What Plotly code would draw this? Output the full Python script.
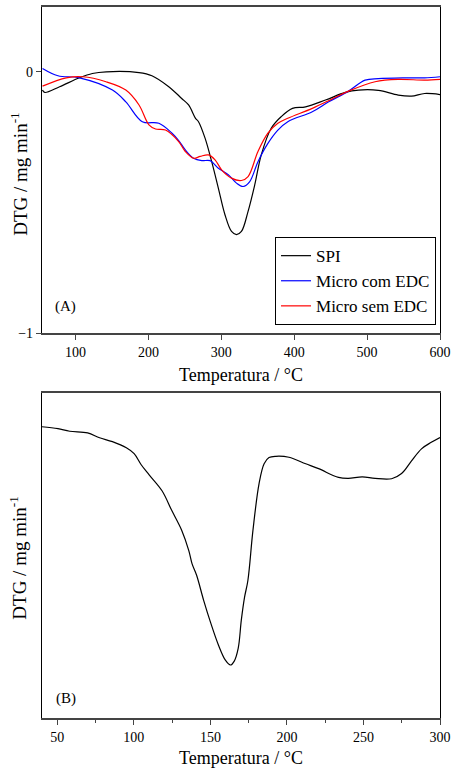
import plotly.graph_objects as go

# ---- Panel A data (DTG / mg min^-1 vs Temperatura / °C) ----
spi_T = [54.7, 57.8, 78.2, 105.4, 123.1, 142.2, 187.1, 204.8, 227.9, 245.6, 255.1, 264.6,
         268.7, 277.8, 286.8, 295.9, 305.0, 314.0, 320.8, 327.6, 336.7, 345.9, 354.8, 368.4,
         382.0, 397.6, 415.6, 442.9, 470.1, 488.2, 515.4, 542.6, 560.8, 578.9, 600.0]
spi_v = [-0.070, -0.079, -0.057, -0.023, -0.0065, 0.0, -0.003, -0.015, -0.057, -0.102, -0.127, -0.178,
         -0.191, -0.255, -0.344, -0.445, -0.547, -0.611, -0.623, -0.611, -0.534, -0.432, -0.318, -0.216,
         -0.172, -0.140, -0.134, -0.108, -0.079, -0.070, -0.071, -0.089, -0.093, -0.083, -0.087]

com_T = [54.7, 75.9, 105.4, 150.7, 169.0, 191.6, 214.3, 232.4, 241.5, 250.6, 261.9, 273.2, 284.6,
         295.9, 309.5, 320.8, 329.9, 339.0, 350.3, 363.9, 377.6, 391.2, 424.8, 447.3, 474.5,
         497.3, 515.4, 551.7, 578.9, 600.0]
com_v = [0.013, -0.015, -0.023, -0.070, -0.115, -0.191, -0.197, -0.235, -0.263, -0.299, -0.331, -0.340, -0.340,
         -0.369, -0.394, -0.426, -0.439, -0.420, -0.344, -0.274, -0.223, -0.191, -0.153, -0.115, -0.074,
         -0.032, -0.026, -0.023, -0.023, -0.019]

sem_T = [54.7, 87.3, 109.9, 141.8, 169.0, 187.1, 200.7, 209.8, 223.4, 241.5, 250.6, 261.9, 271.0,
         282.3, 291.4, 300.4, 314.0, 327.6, 336.7, 350.3, 363.9, 377.6, 391.2, 424.8, 452.0,
         474.5, 510.9, 542.6, 578.9, 600.0]
sem_v = [-0.055, -0.023, -0.019, -0.038, -0.070, -0.127, -0.203, -0.219, -0.223, -0.267, -0.305, -0.331, -0.324,
         -0.318, -0.337, -0.375, -0.407, -0.416, -0.401, -0.305, -0.235, -0.197, -0.178, -0.140, -0.104,
         -0.074, -0.038, -0.029, -0.032, -0.029]

# ---- Panel B data (arbitrary DTG units) ----
b_T = [40.0, 50.4, 58.1, 69.8, 77.6, 86.0, 95.1, 100.2, 104.8, 110.0, 118.4, 124.8, 131.3, 135.9,
       138.0, 141.0, 145.6, 150.1, 155.3, 159.8, 163.1, 165.6, 168.2, 170.2, 172.3, 174.5, 177.8,
       181.8, 185.1, 188.3, 192.8, 201.3, 212.3, 220.7, 233.7, 240.1, 249.2, 257.6, 268.4, 274.9,
       281.4, 287.9, 294.3, 300.0]
b_v = [-0.104, -0.110, -0.118, -0.123, -0.138, -0.150, -0.169, -0.187, -0.221, -0.252, -0.301, -0.362,
       -0.423, -0.485, -0.525, -0.561, -0.638, -0.706, -0.776, -0.822, -0.837, -0.825, -0.785, -0.699,
       -0.629, -0.577, -0.423, -0.279, -0.218, -0.199, -0.195, -0.198, -0.218, -0.233, -0.260, -0.263,
       -0.258, -0.263, -0.264, -0.248, -0.209, -0.172, -0.152, -0.137]

a_xticks = [100, 200, 300, 400, 500, 600]
a_yticks = [0, -1]
b_xticks = [50, 100, 150, 200, 250, 300]

FONT = '"Liberation Serif", "Times New Roman", "DejaVu Serif", serif'

fig = go.Figure()
fig.add_trace(go.Scatter(x=spi_T, y=spi_v, mode="lines", name="SPI",
                         line=dict(color="black", width=1.2, shape="spline"),
                         xaxis="x", yaxis="y"))
fig.add_trace(go.Scatter(x=com_T, y=com_v, mode="lines", name="Micro com EDC",
                         line=dict(color="#0000ff", width=1.2, shape="spline"),
                         xaxis="x", yaxis="y"))
fig.add_trace(go.Scatter(x=sem_T, y=sem_v, mode="lines", name="Micro sem EDC",
                         line=dict(color="#ff0000", width=1.2, shape="spline"),
                         xaxis="x", yaxis="y"))
fig.add_trace(go.Scatter(x=b_T, y=b_v, mode="lines", name="B", showlegend=False,
                         line=dict(color="black", width=1.2, shape="spline"),
                         xaxis="x2", yaxis="y2"))

xcommon = dict(showline=True, linecolor="#444", linewidth=1.5, mirror=True,
               ticks="outside", ticklen=5, tickcolor="#444", showgrid=False, zeroline=False,
               tickfont=dict(family=FONT, size=14, color="black"))
ycommon = dict(showline=True, linecolor="black", linewidth=1.2, mirror=True,
               showgrid=False, zeroline=False,
               tickfont=dict(family=FONT, size=14, color="black"))

top_a = 1.0
bot_a = (718 - 332) / 713
top_b = (718 - 392) / 713
ytitle_x = -(42 - 18) / 402

fig.update_layout(
    width=456, height=771,
    margin=dict(l=42, r=12, t=5, b=53),
    paper_bgcolor="white", plot_bgcolor="white",
    font=dict(family=FONT, color="black"),
    xaxis=dict(domain=[0, 1], anchor="y", range=[54, 600], tickvals=a_xticks, **xcommon,
               title=dict(text="Temperatura / °C", font=dict(family=FONT, size=18), standoff=10)),
    yaxis=dict(domain=[bot_a, top_a], anchor="x", range=[-1, 0.248], tickvals=a_yticks,
               ticks="outside", ticklen=5, **ycommon),
    xaxis2=dict(domain=[0, 1], anchor="y2", range=[40, 300], tickvals=b_xticks, **xcommon,
                minor=dict(ticks="outside", ticklen=3, dtick=25, tick0=0, tickcolor="#444"),
                title=dict(text="Temperatura / °C", font=dict(family=FONT, size=18), standoff=8)),
    yaxis2=dict(domain=[0, top_b], anchor="x2", range=[-1.0, 0.0], showticklabels=False, ticks="",
                **ycommon),
    legend=dict(x=0.99, y=(718 - 324) / 713, xanchor="right", yanchor="bottom",
                bordercolor="black", borderwidth=1, bgcolor="white",
                font=dict(family=FONT, size=17), itemwidth=30, tracegroupgap=0),
    annotations=[
        dict(text="DTG / mg min<sup>-1</sup>", x=ytitle_x, y=(718 - 172) / 713, xref="paper", yref="paper",
             textangle=-90, showarrow=False, font=dict(family=FONT, size=19),
             xanchor="center", yanchor="middle"),
        dict(text="DTG / mg min<sup>-1</sup>", x=ytitle_x, y=(718 - 557) / 713, xref="paper", yref="paper",
             textangle=-90, showarrow=False, font=dict(family=FONT, size=19),
             xanchor="center", yanchor="middle"),
        dict(text="(A)", x=0.06, y=bot_a + 27 / 713, xref="paper", yref="paper",
             showarrow=False, font=dict(family=FONT, size=15), xanchor="center", yanchor="middle"),
        dict(text="(B)", x=0.06, y=20 / 713, xref="paper", yref="paper",
             showarrow=False, font=dict(family=FONT, size=15), xanchor="center", yanchor="middle"),
    ],
)

fig.write_html("out.html")
